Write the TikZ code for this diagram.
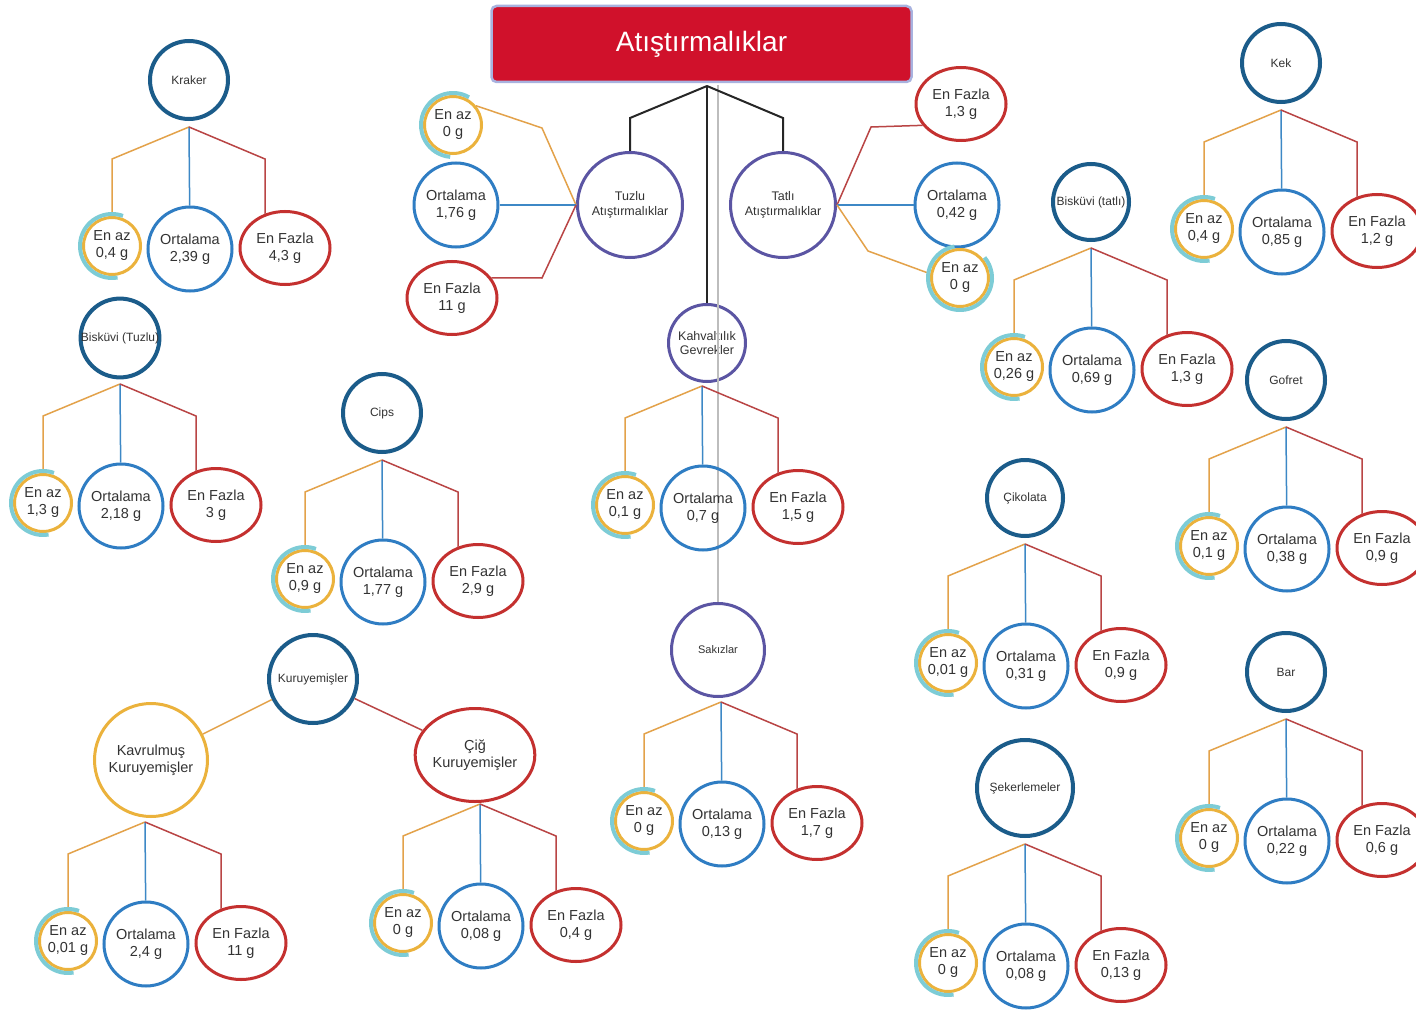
\documentclass[tikz,border=0pt]{standalone}
\usepackage{fontspec}
\setmainfont{Liberation Sans}
\usetikzlibrary{shapes.geometric}
\definecolor{catblue}{HTML}{1B5C8A}
\definecolor{purp}{HTML}{5B55A3}
\definecolor{avgblue}{HTML}{2F7DC3}
\definecolor{maxred}{HTML}{C4302F}
\definecolor{minorange}{HTML}{EBB23C}
\definecolor{tealc}{HTML}{7DCCD6}
\definecolor{lorange}{HTML}{E3A24A}
\definecolor{lblue}{HTML}{3D88C6}
\definecolor{lred}{HTML}{B94545}
\definecolor{titlered}{HTML}{D0112B}
\definecolor{titleedge}{HTML}{A8B2DF}
\definecolor{txt}{HTML}{333333}
\definecolor{greyl}{HTML}{BDBDBD}
\tikzset{
  every node/.style={text=txt, align=center, inner sep=0pt},
  val/.style={font=\fontsize{14.5}{17}\selectfont},
  cat/.style={circle, draw=catblue, line width=4pt, font=\fontsize{12}{14}\selectfont},
  subc/.style={circle, draw=purp, line width=3pt, font=\fontsize{12.5}{14.5}\selectfont},
  minnode/.style={val, circle, draw=minorange, line width=3pt, minimum size=57pt},
  avgnode/.style={val, circle, draw=avgblue, line width=3pt, minimum size=84pt},
  maxnode/.style={val, ellipse, draw=maxred, line width=3pt, minimum width=90pt, minimum height=73pt},
  lmin/.style={draw=lorange, line width=1.5pt},
  lavg/.style={draw=lblue, line width=1.5pt},
  lmax/.style={draw=lred, line width=1.5pt},
  blk/.style={draw=black!85, line width=2pt},
  greyline/.style={draw=greyl, line width=2pt},
  tealring/.style={draw=tealc, line width=4pt},
}
\newcommand{\tring}[3]{\draw[tealring] ([shift={(-#2:32)}]#1.center) arc[start angle=-#2, end angle=-#3, radius=32];}
\newcommand{\kids}[6]{%
  \coordinate (#1J) at (#2,#3);
  \node[minnode] (#1min) at ({#2-77},{#3+119}) {En az\\#4};
  \node[avgnode] (#1avg) at ({#2+1},{#3+122}) {Ortalama\\#5};
  \node[maxnode] (#1max) at ({#2+96},{#3+121}) {En Fazla\\#6};
  \draw[lmin] (#1J) -- ++(-77,32) -- (#1min);
  \draw[lavg] (#1J) -- (#1avg);
  \draw[lmax] (#1J) -- ++(76,32) |- (#1max.120);
  \tring{#1min}{70}{280}
}
\begin{document}
\begin{tikzpicture}[x=1pt,y=-1pt]
\useasboundingbox (0,0) rectangle (1416,1011);
\fill[white] (0,0) rectangle (1416,1011);

% title and main branches
\node[fill=titlered, draw=titleedge, line width=2.5pt, rounded corners=5pt,
  minimum width=420pt, minimum height=76pt, text=white,
  font=\fontsize{28}{32}\selectfont] (title) at (701.5,44) {Atıştırmalıklar};
\coordinate (apex) at (707,86);
\coordinate (gtop) at (718,85);

\node[subc, minimum size=105pt] (tuz) at (630,205) {Tuzlu\\Atıştırmalıklar};
\node[subc, minimum size=105pt] (tat) at (783,205) {Tatlı\\Atıştırmalıklar};
\node[subc, minimum size=77pt] (kah) at (707,343) {Kahvaltılık\\Gevrekler};
\node[subc, minimum size=93pt, font=\fontsize{11}{13}\selectfont] (sak) at (718,650) {Sakızlar};

\draw[greyline] (gtop) -- (sak);
\draw[blk] (apex) -- ++(-77,32) -- (tuz);
\draw[blk] (apex) -- ++(76,32) -- (tat);
\draw[blk] (apex) -- (kah);

% Tuzlu leaves
\node[minnode] (tuzmin) at (453,125) {En az\\0 g};
\node[avgnode] (tuzavg) at (456,205) {Ortalama\\1,76 g};
\node[maxnode] (tuzmax) at (452,298) {En Fazla\\11 g};
\draw[lmin] (tuz.west) -- ++(-34,-77) -- (tuzmin.40);
\draw[lavg] (tuz.west) -- (tuzavg);
\draw[lmax] (tuz.west) -- ++(-34,73) -- (tuzmax.27);
\tring{tuzmin}{60}{265}

% Tatli leaves
\node[maxnode] (tatmax) at (961,104) {En Fazla\\1,3 g};
\node[avgnode] (tatavg) at (957,205) {Ortalama\\0,42 g};
\node[minnode] (tatmin) at (960,278) {En az\\0 g};
\draw[lmax] (tat.east) -- ++(34,-78) -- (tatmax.209);
\draw[lavg] (tat.east) -- (tatavg);
\draw[lmin] (tat.east) -- ++(31,46) -- (tatmin.172);
\tring{tatmin}{100}{400}

\kids{kah}{702}{386}{0,1 g}{0,7 g}{1,5 g}
\kids{sak}{721}{702}{0 g}{0,13 g}{1,7 g}

% left side
\node[cat, minimum size=78pt] (kra) at (189,80) {Kraker};
\kids{kra}{189}{127}{0,4 g}{2,39 g}{4,3 g}
\node[cat, minimum size=76pt] (bt) at (120,338) {Bisküvi (Tuzlu)};
\kids{bt}{120}{384}{1,3 g}{2,18 g}{3 g}
\node[cat, minimum size=78pt] (cip) at (382,413) {Cips};
\kids{cip}{382}{460}{0,9 g}{1,77 g}{2,9 g}

\node[cat, minimum size=88pt] (kur) at (313,679) {Kuruyemişler};
\node[val, circle, draw=minorange, line width=3pt, minimum size=113pt] (kav) at (151,760) {Kavrulmuş\\Kuruyemişler};
\node[val, ellipse, draw=maxred, line width=3pt, minimum width=115pt, minimum height=93pt] (cig) at (475,755) {Çiğ\\Kuruyemişler};
\draw[lmin] (kur) -- (kav);
\draw[lmax] (kur) -- (cig);
\kids{kav}{145}{822}{0,01 g}{2,4 g}{11 g}
\kids{cig}{480}{804}{0 g}{0,08 g}{0,4 g}

% right side
\node[cat, minimum size=78pt] (kek) at (1281,63) {Kek};
\kids{kek}{1281}{110}{0,4 g}{0,85 g}{1,2 g}
\node[cat, minimum size=76pt] (bta) at (1091,202) {Bisküvi (tatlı)};
\kids{bta}{1091}{248}{0,26 g}{0,69 g}{1,3 g}
\node[cat, minimum size=78pt] (gof) at (1286,380) {Gofret};
\kids{gof}{1286}{427}{0,1 g}{0,38 g}{0,9 g}
\node[cat, minimum size=76pt] (cik) at (1025,498) {Çikolata};
\kids{cik}{1025}{544}{0,01 g}{0,31 g}{0,9 g}
\node[cat, minimum size=78pt] (bar) at (1286,672) {Bar};
\kids{bar}{1286}{719}{0 g}{0,22 g}{0,6 g}
\node[cat, minimum size=96pt] (sek) at (1025,788) {Şekerlemeler};
\kids{sek}{1025}{844}{0 g}{0,08 g}{0,13 g}
\end{tikzpicture}
\end{document}
